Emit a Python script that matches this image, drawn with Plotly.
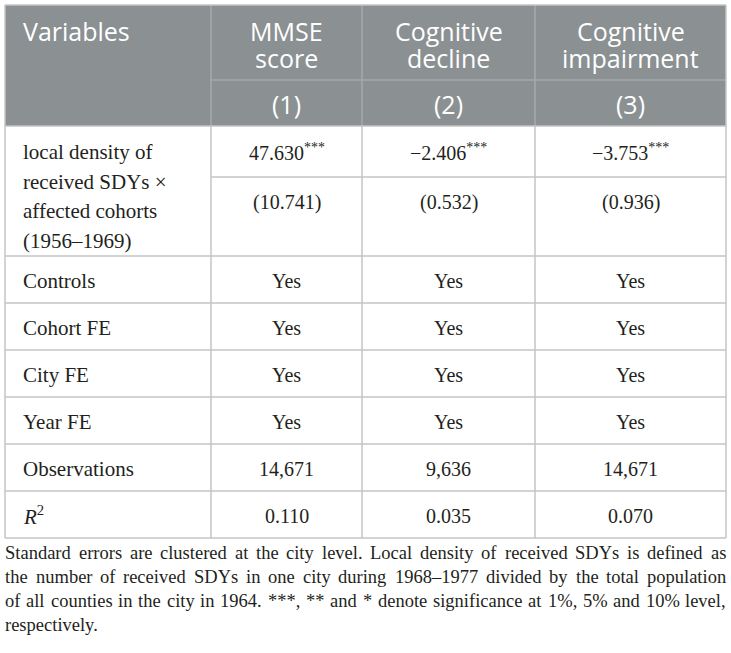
import plotly.graph_objects as go

# ---------------- data ----------------
header_title = "Variables"
col_titles = [["MMSE", "score"], ["Cognitive", "decline"], ["Cognitive", "impairment"]]
col_numbers = ["(1)", "(2)", "(3)"]
main_label = ["local density of", "received SDYs ×", "affected cohorts", "(1956–1969)"]
coefficients = ["47.630", "−2.406", "−3.753"]
coef_stars = ["***", "***", "***"]
std_errors = ["(10.741)", "(0.532)", "(0.936)"]
row_labels = ["Controls", "Cohort FE", "City FE", "Year FE", "Observations", "<i>R</i><sup>2</sup>"]
row_values = [
    ["Yes", "Yes", "Yes"],
    ["Yes", "Yes", "Yes"],
    ["Yes", "Yes", "Yes"],
    ["Yes", "Yes", "Yes"],
    ["14,671", "9,636", "14,671"],
    ["0.110", "0.035", "0.070"],
]
footnote_lines = [
    "Standard errors are clustered at the city level. Local density of received SDYs is defined as",
    "the number of received SDYs in one city during 1968–1977 divided by the total population",
    "of all counties in the city in 1964. ***, ** and * denote significance at 1%, 5% and 10% level,",
    "respectively.",
]

# ---------------- layout geometry ----------------
W, H = 731, 653
col_edges = [5, 211, 362, 535, 726]
hdr_top, hdr_mid, hdr_bot = 5, 80, 126
main_mid, main_bot = 177, 256
row_h = 47
label_x = 23

HEADER_FILL = "#8b9092"
HEADER_LINE = "#a6aaac"
GRID = "#c4c4c4"
TEXT = "#231f20"
SERIF = "Liberation Serif, Times New Roman, serif"
SANS = "Open Sans, sans-serif"
num_size = 20
label_size = 21
hdr_size = 25
foot_size = 18.5

# Times / Liberation Serif advance widths (per 1000 em) used to justify the footnote
TIMES_W = {" ": 250, ",": 250, ".": 250, "*": 500, "%": 833, "–": 500, "-": 333,
           "A": 722, "B": 667, "C": 667, "D": 722, "E": 611, "F": 556, "G": 722, "H": 722,
           "I": 333, "J": 389, "K": 722, "L": 611, "M": 889, "N": 722, "O": 722, "P": 556,
           "Q": 722, "R": 667, "S": 556, "T": 611, "U": 722, "V": 722, "W": 944, "X": 722,
           "Y": 722, "Z": 611, "a": 444, "b": 500, "c": 444, "d": 500, "e": 444, "f": 333,
           "g": 500, "h": 500, "i": 278, "j": 278, "k": 500, "l": 278, "m": 778, "n": 500,
           "o": 500, "p": 500, "q": 500, "r": 333, "s": 389, "t": 278, "u": 500, "v": 500,
           "w": 722, "x": 500, "y": 500, "z": 444}
for d in "0123456789":
    TIMES_W[d] = 500


def text_width(s, size):
    return sum(TIMES_W.get(c, 500) for c in s) * size / 1000.0


fig = go.Figure()
shapes = []
ann = []


def line(x0, y0, x1, y1, color=GRID, w=1.5):
    shapes.append(dict(type="line", x0=x0, y0=y0, x1=x1, y1=y1, xref="x", yref="y",
                       line=dict(color=color, width=w)))


def text(x, y, s, size=num_size, color=TEXT, font=SERIF, xanchor="center"):
    ann.append(dict(x=x, y=y, xref="x", yref="y", text=s, showarrow=False,
                    xanchor=xanchor, yanchor="middle", borderpad=0, borderwidth=0,
                    font=dict(family=font, size=size, color=color)))


# header background
shapes.append(dict(type="rect", x0=col_edges[0], x1=col_edges[-1], y0=hdr_top, y1=hdr_bot,
                   xref="x", yref="y", fillcolor=HEADER_FILL, line=dict(width=0), layer="below"))
# header inner lines
line(col_edges[1], hdr_mid, col_edges[-1], hdr_mid, HEADER_LINE)
for xe in col_edges[1:-1]:
    line(xe, hdr_top, xe, hdr_bot, HEADER_LINE)

# body row boundaries
row_bottoms = [main_bot + row_h * (i + 1) for i in range(len(row_labels))]
table_bot = row_bottoms[-1]
line(col_edges[1], main_mid, col_edges[-1], main_mid)
line(col_edges[0], main_bot, col_edges[-1], main_bot)
for yb in row_bottoms:
    line(col_edges[0], yb, col_edges[-1], yb)
for xe in col_edges[1:-1]:
    line(xe, hdr_bot, xe, table_bot)
# outer border
line(col_edges[0], hdr_top, col_edges[-1], hdr_top)
line(col_edges[0], hdr_top, col_edges[0], table_bot)
line(col_edges[-1], hdr_top, col_edges[-1], table_bot)
line(col_edges[0], hdr_bot, col_edges[-1], hdr_bot)

centers = [(col_edges[i + 1] + col_edges[i + 2]) / 2 for i in range(3)]

# header texts
text(label_x, 31, header_title, size=hdr_size, color="white", font=SANS, xanchor="left")
for i, (l1, l2) in enumerate(col_titles):
    text(centers[i], 31, l1, size=hdr_size, color="white", font=SANS)
    text(centers[i], 58, l2, size=hdr_size, color="white", font=SANS)
    text(centers[i], 104, col_numbers[i], size=hdr_size, color="white", font=SANS)

# main row
for k, s in enumerate(main_label):
    text(label_x, 152 + 29.5 * k, s, size=label_size, xanchor="left")
for i in range(3):
    text(centers[i], 152, coefficients[i] + "<sup>" + coef_stars[i] + "</sup>")
    text(centers[i], 202, std_errors[i])

# other rows
for r, lab in enumerate(row_labels):
    yc = row_bottoms[r] - row_h / 2 + 1
    text(label_x, yc, lab, size=label_size, xanchor="left")
    for i in range(3):
        text(centers[i], yc, row_values[r][i])

# footnote (justified like the reference, last line left aligned)
foot_x0, foot_x1 = col_edges[0], col_edges[-1]
for k, s in enumerate(footnote_lines):
    yk = 553 + 24 * k
    words = s.split(" ")
    if k == len(footnote_lines) - 1 or len(words) < 2:
        text(foot_x0, yk, s, size=foot_size, xanchor="left")
        continue
    widths = [text_width(wd, foot_size) for wd in words]
    gap = (foot_x1 - foot_x0 - sum(widths)) / (len(words) - 1)
    x = foot_x0
    for wd, wdw in zip(words, widths):
        text(x, yk, wd, size=foot_size, xanchor="left")
        x += wdw + gap

fig.update_layout(
    width=W, height=H, margin=dict(l=0, r=0, t=0, b=0),
    paper_bgcolor="white", plot_bgcolor="white",
    xaxis=dict(range=[0, W], visible=False, fixedrange=True),
    yaxis=dict(range=[H, 0], visible=False, fixedrange=True),
    shapes=shapes, annotations=ann, showlegend=False,
)
fig.write_html(
    "out.html",
    config={"displayModeBar": False},
    post_script="document.body.style.margin='0';document.body.style.overflow='hidden';",
)
